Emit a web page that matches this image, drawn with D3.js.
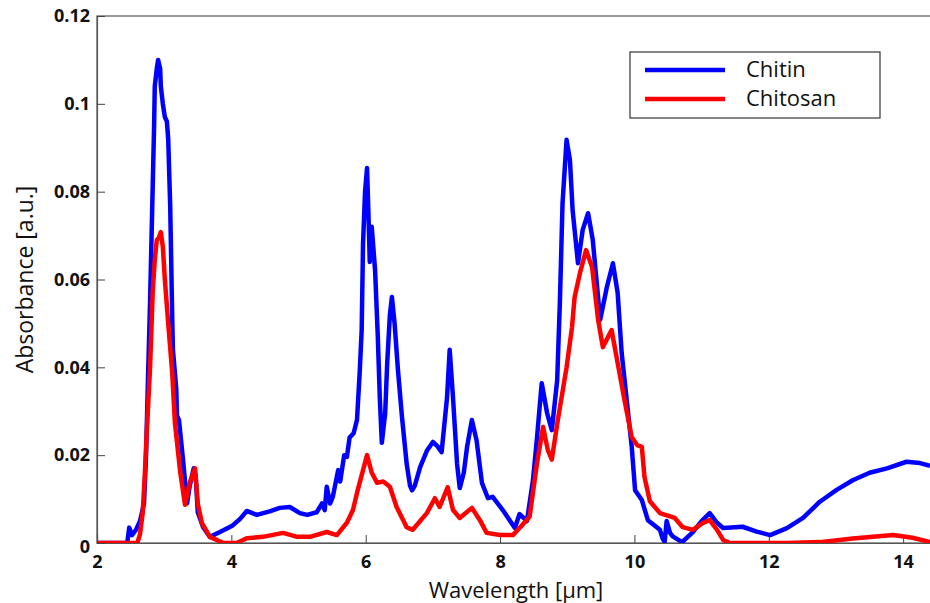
<!DOCTYPE html>
<html>
<head>
<meta charset="utf-8">
<script src="https://cdn.jsdelivr.net/npm/d3@7"></script>
<style>
  body { margin: 0; background: #fff; }
  text { font-family: "Open Sans", "DejaVu Sans", sans-serif; fill: #111; }
</style>
</head>
<body>
<div id="chart"></div>
<script>
// Spectra: wavelength (µm) and absorbance (a.u.)
const chitinWl = [2.00, 2.45, 2.48, 2.52, 2.58, 2.64, 2.70, 2.73, 2.76, 2.79, 2.82, 2.85, 2.86, 2.89, 2.91, 2.94, 2.95, 2.98, 3.01, 3.04, 3.06, 3.09, 3.12, 3.13, 3.18, 3.19, 3.22, 3.28, 3.34, 3.38, 3.44, 3.47, 3.50, 3.58, 3.68, 3.83, 4.02, 4.13, 4.23, 4.38, 4.57, 4.72, 4.87, 5.02, 5.13, 5.27, 5.35, 5.39, 5.42, 5.47, 5.51, 5.59, 5.62, 5.68, 5.72, 5.76, 5.82, 5.87, 5.91, 5.94, 5.96, 5.99, 6.02, 6.05, 6.06, 6.09, 6.12, 6.14, 6.18, 6.21, 6.24, 6.29, 6.32, 6.36, 6.39, 6.43, 6.48, 6.54, 6.61, 6.66, 6.69, 6.73, 6.81, 6.91, 7.00, 7.07, 7.13, 7.21, 7.25, 7.30, 7.36, 7.40, 7.46, 7.51, 7.58, 7.65, 7.73, 7.82, 7.89, 8.04, 8.15, 8.22, 8.29, 8.40, 8.49, 8.55, 8.62, 8.70, 8.77, 8.85, 8.89, 8.93, 8.99, 9.04, 9.08, 9.16, 9.23, 9.31, 9.38, 9.49, 9.59, 9.68, 9.75, 9.81, 9.89, 9.96, 10.01, 10.11, 10.20, 10.38, 10.42, 10.45, 10.48, 10.53, 10.57, 10.71, 10.87, 11.00, 11.12, 11.23, 11.32, 11.61, 11.82, 12.02, 12.27, 12.51, 12.76, 13.01, 13.25, 13.50, 13.76, 14.05, 14.25, 14.40];
const chitinAbs = [0, 0, 0.0035, 0.0018, 0.003, 0.005, 0.009, 0.02, 0.038, 0.055, 0.075, 0.095, 0.104, 0.108, 0.110, 0.108, 0.104, 0.100, 0.097, 0.096, 0.092, 0.0765, 0.051, 0.044, 0.035, 0.029, 0.028, 0.019, 0.009, 0.013, 0.017, 0.015, 0.007, 0.0036, 0.0014, 0.0025, 0.004, 0.0055, 0.0073, 0.0064, 0.0072, 0.008, 0.0082, 0.0068, 0.0064, 0.007, 0.009, 0.0075, 0.0128, 0.009, 0.0105, 0.0166, 0.014, 0.020, 0.0196, 0.024, 0.025, 0.028, 0.0387, 0.0485, 0.068, 0.080, 0.0854, 0.070, 0.064, 0.072, 0.066, 0.062, 0.047, 0.033, 0.0228, 0.0296, 0.041, 0.052, 0.056, 0.050, 0.0394, 0.0287, 0.018, 0.013, 0.012, 0.013, 0.0173, 0.021, 0.023, 0.022, 0.0207, 0.033, 0.044, 0.033, 0.018, 0.0125, 0.016, 0.022, 0.028, 0.0234, 0.0137, 0.0102, 0.0105, 0.0075, 0.005, 0.0034, 0.0066, 0.005, 0.0143, 0.024, 0.0364, 0.0296, 0.0257, 0.037, 0.0546, 0.0774, 0.0918, 0.0872, 0.0758, 0.0637, 0.0713, 0.0751, 0.069, 0.0508, 0.0583, 0.0637, 0.057, 0.0433, 0.0319, 0.0219, 0.012, 0.0098, 0.0052, 0.003, 0.001, 0.0003, 0.005, 0.0023, 0.0015, 0.0002, 0.0025, 0.005, 0.0068, 0.0046, 0.0034, 0.0037, 0.0026, 0.0018, 0.0034, 0.0057, 0.0094, 0.0121, 0.0143, 0.016, 0.017, 0.0185, 0.0182, 0.0176];

const chitosanWl = [2.00, 2.60, 2.64, 2.68, 2.71, 2.74, 2.79, 2.83, 2.86, 2.89, 2.92, 2.95, 2.98, 3.01, 3.06, 3.12, 3.16, 3.24, 3.31, 3.38, 3.46, 3.50, 3.56, 3.68, 3.88, 4.08, 4.23, 4.47, 4.77, 4.98, 5.17, 5.42, 5.57, 5.72, 5.81, 5.88, 5.96, 6.02, 6.09, 6.17, 6.26, 6.36, 6.46, 6.61, 6.70, 6.91, 7.03, 7.10, 7.22, 7.30, 7.40, 7.58, 7.70, 7.80, 8.00, 8.19, 8.29, 8.44, 8.55, 8.64, 8.71, 8.77, 8.86, 8.99, 9.07, 9.11, 9.19, 9.28, 9.37, 9.46, 9.53, 9.66, 9.75, 9.86, 9.96, 10.04, 10.11, 10.15, 10.23, 10.38, 10.60, 10.72, 10.87, 11.02, 11.12, 11.23, 11.32, 11.42, 12.27, 12.76, 13.25, 13.85, 14.14, 14.40];
const chitosanAbs = [0, 0, 0.002, 0.0068, 0.015, 0.025, 0.040, 0.0575, 0.0645, 0.069, 0.0695, 0.0708, 0.0674, 0.060, 0.050, 0.0387, 0.0273, 0.016, 0.0087, 0.0137, 0.017, 0.009, 0.0046, 0.0014, 0, 0, 0.0011, 0.0014, 0.0023, 0.0014, 0.0014, 0.0025, 0.0018, 0.0046, 0.0075, 0.012, 0.0166, 0.020, 0.016, 0.0137, 0.014, 0.0128, 0.0082, 0.0036, 0.003, 0.0068, 0.0102, 0.0082, 0.0127, 0.0075, 0.0057, 0.008, 0.0052, 0.0023, 0.0018, 0.0018, 0.0034, 0.006, 0.0182, 0.0264, 0.0212, 0.019, 0.028, 0.040, 0.049, 0.056, 0.0615, 0.0667, 0.0628, 0.0508, 0.0446, 0.0485, 0.041, 0.0319, 0.0241, 0.0223, 0.0219, 0.015, 0.0095, 0.0068, 0.0057, 0.0036, 0.003, 0.0046, 0.0052, 0.003, 0.0007, 0, 0, 0.0002, 0.001, 0.0018, 0.0012, 0.0002];

const xTicks = [2, 4, 6, 8, 10, 12, 14];
const yTicks = [0, 0.02, 0.04, 0.06, 0.08, 0.1, 0.12];
const seriesNames = ["Chitin", "Chitosan"];
const seriesColors = ["#0000ff", "#ff0000"];

const width = 930;
const height = 603;
const margin = { left: 97, top: 16, bottom: 60 };

const svg = d3.select("#chart")
  .append("svg")
  .attr("width", width)
  .attr("height", height);

const x = d3.scaleLinear().domain([2, 14.4]).range([margin.left, width]);
const y = d3.scaleLinear().domain([0, 0.12]).range([height - margin.bottom, margin.top]);

// clip the curves to the plot box
svg.append("clipPath").attr("id", "plotClip")
  .append("rect")
  .attr("x", margin.left).attr("y", margin.top - 4)
  .attr("width", width - margin.left).attr("height", y(0) - margin.top + 4);

// frame (right edge falls outside the picture)
svg.append("rect")
  .attr("x", margin.left).attr("y", margin.top)
  .attr("width", width - margin.left + 10).attr("height", y(0) - margin.top)
  .attr("fill", "none").attr("stroke", "#555").attr("stroke-width", 1.2);

// axes with inward ticks
const xAxis = svg.append("g")
  .attr("transform", `translate(0,${y(0)})`)
  .call(d3.axisBottom(x).tickValues(xTicks).tickSize(-8).tickPadding(12).tickFormat(d3.format("d")));
const yAxis = svg.append("g")
  .attr("transform", `translate(${margin.left},0)`)
  .call(d3.axisLeft(y).tickValues(yTicks).tickSize(-8).tickPadding(7).tickFormat(d => d === 0 ? "0" : String(+d.toFixed(2))));

[xAxis, yAxis].forEach(g => {
  g.select(".domain").attr("stroke", "#555").attr("stroke-width", 1.2);
  g.selectAll(".tick line").attr("stroke", "#444");
  g.selectAll(".tick text")
    .style("font-family", "'Open Sans', 'DejaVu Sans', sans-serif")
    .style("font-size", "18px")
    .style("font-weight", "bold")
    .attr("fill", "#111");
});
// the zero label sits a little low in the original
yAxis.selectAll(".tick text").filter(d => d === 0).attr("dy", "0.5em");

// curves
const line = d3.line().x(d => x(d[0])).y(d => y(d[1]));
const curves = [
  d3.zip(chitinWl, chitinAbs),
  d3.zip(chitosanWl, chitosanAbs)
];
curves.forEach((pts, i) => {
  svg.append("path")
    .datum(pts)
    .attr("clip-path", "url(#plotClip)")
    .attr("fill", "none")
    .attr("stroke", seriesColors[i])
    .attr("stroke-width", 4.5)
    .attr("stroke-linejoin", "round")
    .attr("d", line);
});

// axis titles
svg.append("text")
  .attr("x", 516).attr("y", 598)
  .attr("text-anchor", "middle")
  .style("font-size", "22px")
  .text("Wavelength [μm]");

svg.append("text")
  .attr("transform", `translate(33,${(margin.top + y(0)) / 2}) rotate(-90)`)
  .attr("text-anchor", "middle")
  .style("font-size", "23px")
  .text("Absorbance [a.u.]");

// legend
const legend = svg.append("g").attr("transform", "translate(630,52)");
legend.append("rect")
  .attr("width", 250).attr("height", 66)
  .attr("fill", "#fff").attr("stroke", "#333").attr("stroke-width", 1.2);
seriesNames.forEach((name, i) => {
  legend.append("line")
    .attr("x1", 15).attr("x2", 95)
    .attr("y1", 18 + i * 29).attr("y2", 18 + i * 29)
    .attr("stroke", seriesColors[i]).attr("stroke-width", 4.5);
  legend.append("text")
    .attr("x", 116).attr("y", 25 + i * 29)
    .style("font-size", "22px")
    .text(name);
});
</script>
</body>
</html>
